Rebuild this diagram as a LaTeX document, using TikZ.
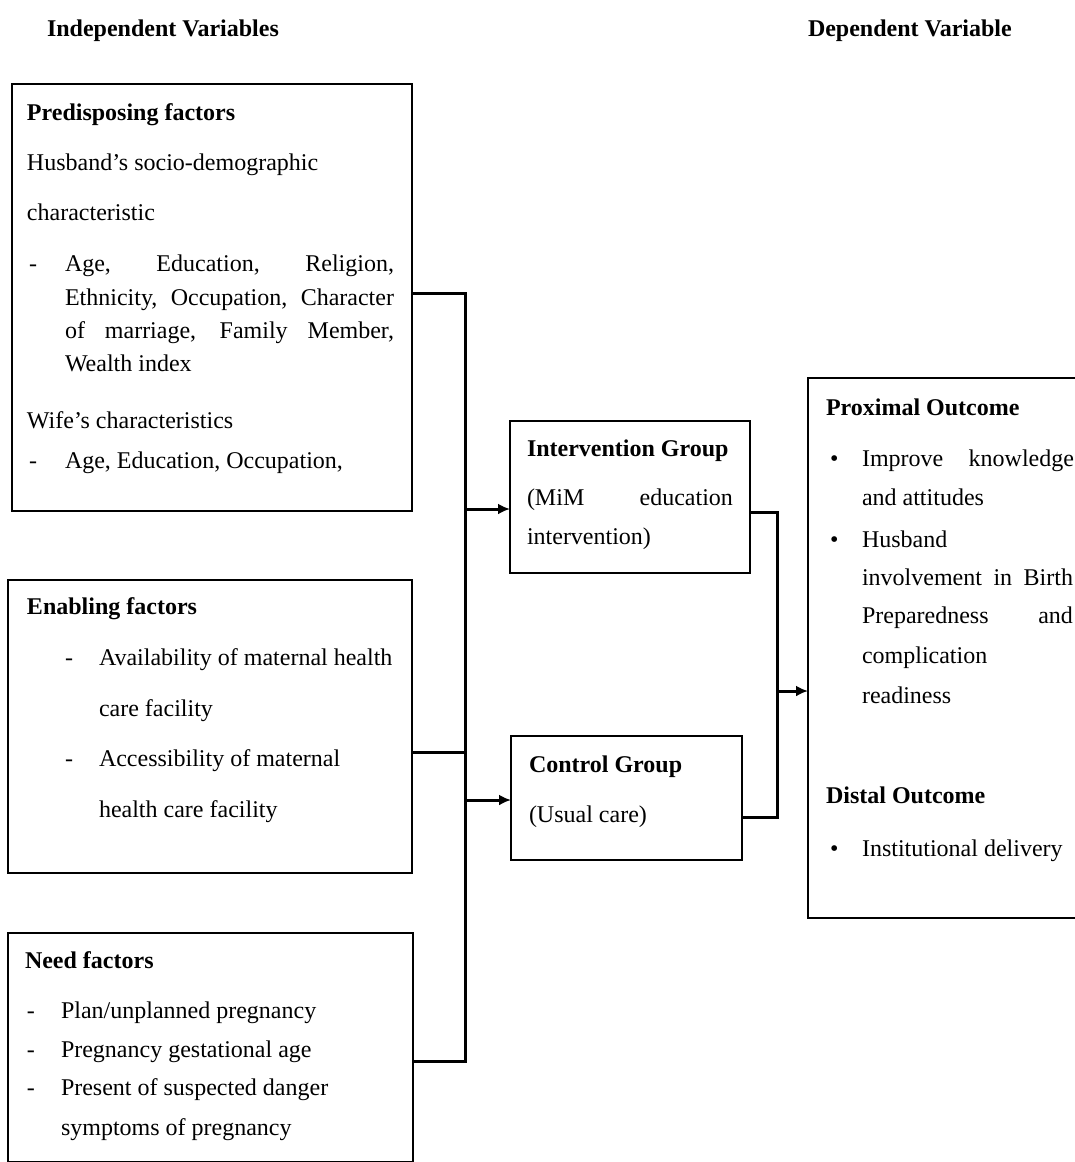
\documentclass[tikz,border=0pt]{standalone}
\usepackage{fontspec}
\setmainfont{Liberation Serif}
\usetikzlibrary{arrows.meta}
\begin{document}
\begin{tikzpicture}[x=1pt,y=-1pt,
  frame/.style={draw=black, line width=2.5pt, inner sep=0pt, outer sep=0pt, anchor=north west},
  txt/.style={anchor=base west, inner sep=0pt, outer sep=0pt, font=\fontsize{24}{28}\selectfont},
  hd/.style={anchor=base west, inner sep=0pt, outer sep=0pt, font=\fontsize{24}{28}\selectfont\bfseries},
  conn/.style={line width=3pt, line join=miter},
  arr/.style={conn, -{Latex[length=12pt,width=11pt]}}]
\useasboundingbox (0,0) rectangle (1075,1162);
\clip (0,0) rectangle (1075,1162);
% headings
\node[hd] (h1) at (47,36) {Independent Variables};
\node[hd] (h2) at (808,36) {Dependent Variable};
% boxes
\node[frame, minimum width=400pt, minimum height=427pt] (pre) at (12,84) {};
\node[frame, minimum width=404pt, minimum height=293pt] (ena) at (8,580) {};
\node[frame, minimum width=405pt, minimum height=229pt] (need) at (8,933) {};
\node[frame, minimum width=240pt, minimum height=152pt] (int) at (510,421) {};
\node[frame, minimum width=231pt, minimum height=124pt] (ctl) at (511,736) {};
\node[frame, minimum width=280pt, minimum height=540pt] (out) at (808,378) {};
% predisposing
\node[hd] (p0) at (27,120) {Predisposing factors};
\node[txt] (p1) at (27,170) {Husband’s socio-demographic};
\node[txt] (p2) at (27,220) {characteristic};
\node[txt] (p3d) at (29,271) {-};
\node[txt] (p3) at (65,271) {\makebox[329pt][s]{Age, Education, Religion,}};
\node[txt] (p4) at (65,305) {\makebox[329pt][s]{Ethnicity, Occupation, Character}};
\node[txt] (p5) at (65,338) {\makebox[329pt][s]{of marriage, Family Member,}};
\node[txt] (p6) at (65,371) {Wealth index};
\node[txt] (p7) at (27,428) {Wife’s characteristics};
\node[txt] (p8d) at (29,468) {-};
\node[txt] (p8) at (65,468) {Age, Education, Occupation,};
% enabling
\node[hd] (e0) at (27,614) {Enabling factors};
\node[txt] (e1d) at (65,665) {-};
\node[txt] (e1) at (99,665) {Availability of maternal health};
\node[txt] (e2) at (99,716) {care facility};
\node[txt] (e3d) at (65,766) {-};
\node[txt] (e3) at (99,766) {Accessibility of maternal};
\node[txt] (e4) at (99,817) {health care facility};
% need
\node[hd] (n0) at (25,968) {Need factors};
\node[txt] (n1d) at (27,1018) {-};
\node[txt] (n1) at (61,1018) {Plan/unplanned pregnancy};
\node[txt] (n2d) at (27,1057) {-};
\node[txt] (n2) at (61,1057) {Pregnancy gestational age};
\node[txt] (n3d) at (27,1095) {-};
\node[txt] (n3) at (61,1095) {Present of suspected danger};
\node[txt] (n4) at (61,1135) {symptoms of pregnancy};
% intervention
\node[hd] (i0) at (527,456) {Intervention Group};
\node[txt] (i1) at (527,505) {\makebox[206pt][s]{(MiM education}};
\node[txt] (i2) at (527,544) {intervention)};
% control
\node[hd] (c0) at (529,772) {Control Group};
\node[txt] (c1) at (529,822) {(Usual care)};
% outcome
\node[hd] (o0) at (826,415) {Proximal Outcome};
\node[txt] (b1) at (830,466) {•};
\node[txt] (o1) at (862,466) {\makebox[212pt][s]{Improve knowledge}};
\node[txt] (o2) at (862,505) {and attitudes};
\node[txt] (b2) at (830,547) {•};
\node[txt] (o3) at (862,547) {Husband};
\node[txt] (o4) at (862,585) {\makebox[211pt][s]{involvement in Birth}};
\node[txt] (o5) at (862,623) {\makebox[211pt][s]{Preparedness and}};
\node[txt] (o6) at (862,663) {complication};
\node[txt] (o7) at (862,703) {readiness};
\node[hd] (o8) at (826,803) {Distal Outcome};
\node[txt] (b3) at (830,856) {•};
\node[txt] (o9) at (862,856) {Institutional delivery};
% connectors
\coordinate (j1) at (465,293);
\coordinate (j2) at (465,752);
\coordinate (j3) at (465,1061);
\coordinate (a1) at (465,509);
\coordinate (a2) at (465,800);
\coordinate (r1) at (777,512);
\coordinate (r2) at (777,817);
\coordinate (r3) at (777,691);
\draw[conn] (pre.east |- j1) -- (j1) -- (j3) -- (need.east |- j3);
\draw[conn] (ena.east |- j2) -- (j2);
\draw[arr] (a1) -- (int.west |- a1);
\draw[arr] (a2) -- (ctl.west |- a2);
\draw[conn] (int.east |- r1) -- (r1) -- (r2) -- (ctl.east |- r2);
\draw[arr] (r3) -- (out.west |- r3);
\end{tikzpicture}
\end{document}
